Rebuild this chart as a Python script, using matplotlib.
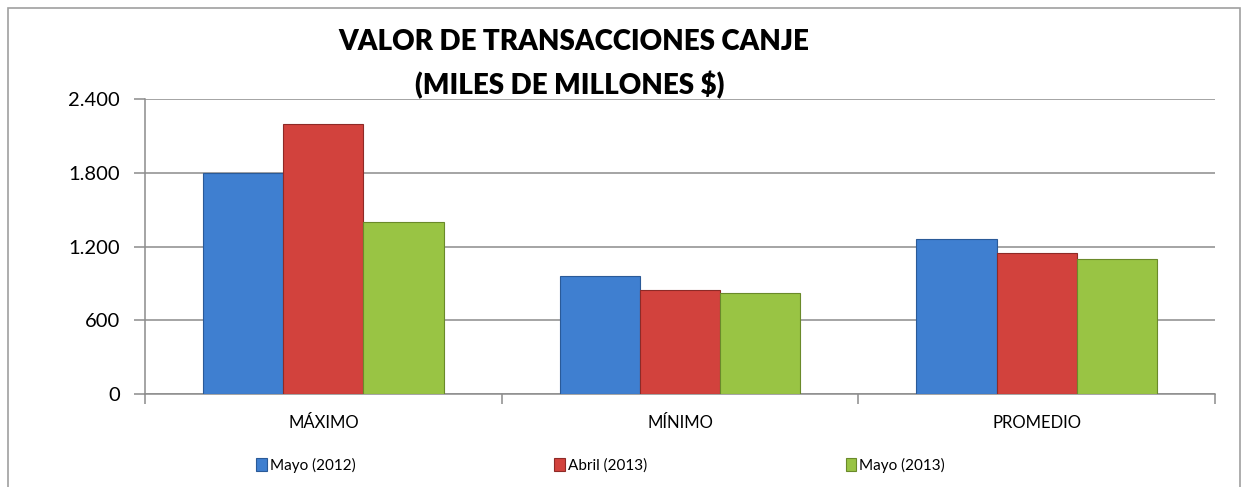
import numpy as np
import matplotlib.pyplot as plt
from matplotlib.patches import Rectangle

plt.rcParams['font.family'] = ['Lato', 'DejaVu Sans']

categories = ["MÁXIMO", "MÍNIMO", "PROMEDIO"]
series = ["Mayo (2012)", "Abril (2013)", "Mayo (2013)"]
mayo_2012 = [1800, 960, 1260]
abril_2013 = [2200, 850, 1150]
mayo_2013 = [1400, 820, 1100]
yticks = [0, 600, 1200, 1800, 2400]
ytick_labels = ["0", "600", "1.200", "1.800", "2.400"]

colors = ["#3f7fd0", "#d2423d", "#99c444"]
edges = ["#2a5a98", "#8e2a27", "#6a8a2a"]

fig = plt.figure(figsize=(12.48, 4.87), dpi=100)
# outer chart border
fig.add_artist(Rectangle((8/1248, -0.1), 1232/1248, 1.1 - 8/487, transform=fig.transFigure,
                         fill=False, edgecolor="#a0a0a0", linewidth=1.2))

ax = fig.add_axes([145/1248, 1 - 394/487, 1070/1248, 295/487])
x = np.arange(len(categories))
w = 0.225
for i, vals in enumerate([mayo_2012, abril_2013, mayo_2013]):
    ax.bar(x + (i - 1) * w, vals, w, color=colors[i], edgecolor=edges[i], linewidth=0.8,
           label=series[i], zorder=3)

ax.set_xlim(-0.5, 2.5)
ax.set_ylim(0, 2400)
ax.set_yticks(yticks)
ax.set_yticklabels(ytick_labels, fontsize=14.5)
ax.yaxis.grid(True, color="#8c8c8c", linewidth=1.1, zorder=0)
ax.set_xticks(x)
ax.set_xticklabels(categories, fontsize=12)
ax.tick_params(axis="x", length=0, pad=15)
ax.set_xticks([-0.5, 0.5, 1.5, 2.5], minor=True)
ax.tick_params(axis="x", which="minor", length=7, color="#8c8c8c", width=1.1)
ax.tick_params(axis="y", length=8, color="#8c8c8c", width=1.1, pad=10)
for s in ["top", "right"]:
    ax.spines[s].set_visible(False)
for s in ["left", "bottom"]:
    ax.spines[s].set_color("#8c8c8c")
    ax.spines[s].set_linewidth(1.1)

fig.text(574/1248, 1 - 42/487, "VALOR DE TRANSACCIONES CANJE", ha="center", va="center",
         fontsize=20, fontweight="heavy")
fig.text(570/1248, 1 - 85/487, "(MILES DE MILLONES $)", ha="center", va="center",
         fontsize=20, fontweight="heavy")

fig.legend(loc="center left", bbox_to_anchor=(256/1248, 1 - 465/487), ncol=3, frameon=False,
           fontsize=11, handlelength=0.7, handleheight=0.9, handletextpad=0.2,
           columnspacing=13.0, borderaxespad=0, borderpad=0)

fig.savefig("out.png", dpi=100)
